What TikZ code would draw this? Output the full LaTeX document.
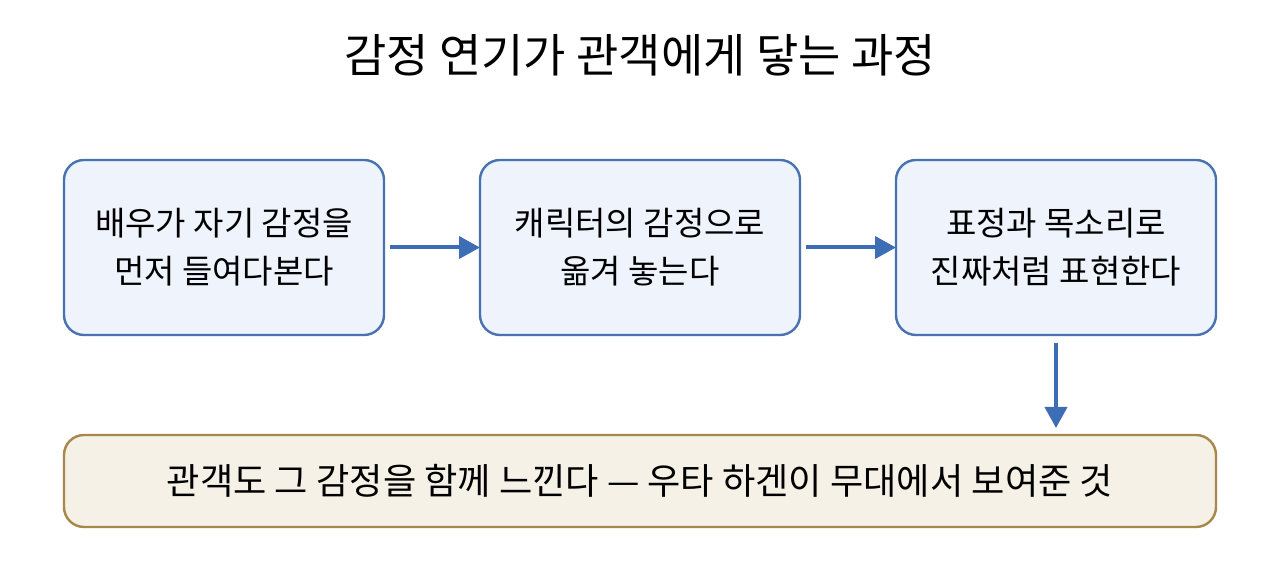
\documentclass[tikz,border=0pt]{standalone}
\usepackage{fontspec}
\setmainfont{Noto Sans CJK KR}
\usepackage{tikz}
\usetikzlibrary{arrows.meta}
\usetikzlibrary{positioning}

\definecolor{stepblue}{HTML}{EEF3FC}
\definecolor{stepline}{HTML}{4872B0}
\definecolor{arrowblue}{HTML}{3D6DB5}
\definecolor{endfill}{HTML}{F5F1E6}
\definecolor{endline}{HTML}{A8874A}

\tikzset{
    stepbox/.style={draw=stepline, fill=stepblue, line width=1.2pt, rounded corners=10pt, outer sep=0pt,
        minimum width=160pt, minimum height=87.5pt, align=center, font=\fontsize{16.5pt}{24pt}\selectfont},
    endbox/.style={draw=endline, fill=endfill, line width=1.2pt, rounded corners=10pt, outer sep=0pt,
        minimum width=576pt, minimum height=46pt, align=center, font=\fontsize{18.1pt}{24pt}\selectfont},
    flow/.style={-{Triangle[length=10.5pt,width=11pt]}, draw=arrowblue, line width=2pt}
}

\begin{document}
\begin{tikzpicture}
        \useasboundingbox (0,0) rectangle (640pt,-288pt);
        \node [font=\fontsize{23pt}{24pt}\selectfont] (title) at (320pt,-27.5pt) {감정 연기가 관객에게 닿는 과정};

        \node [stepbox] (actor) at (112pt,-123.75pt)        {배우가 자기 감정을\\먼저 들여다본다};
        \node [stepbox] (role)  [right = 48pt of actor]     {캐릭터의 감정으로\\옮겨 놓는다};
        \node [stepbox] (face)  [right = 48pt of role]      {표정과 목소리로\\진짜처럼 표현한다};
        \node [endbox]  (audience) [below = 50pt of role]   {관객도 그 감정을 함께 느낀다 — 우타 하겐이 무대에서 보여준 것};

        \draw [flow, shorten <=3pt] (actor) -- (role);
        \draw [flow, shorten <=3pt] (role) -- (face);
        \draw [flow, shorten <=4pt, shorten >=3.5pt] (face.south) -- (face.south |- audience.north);
    \end{tikzpicture}
\end{document}
